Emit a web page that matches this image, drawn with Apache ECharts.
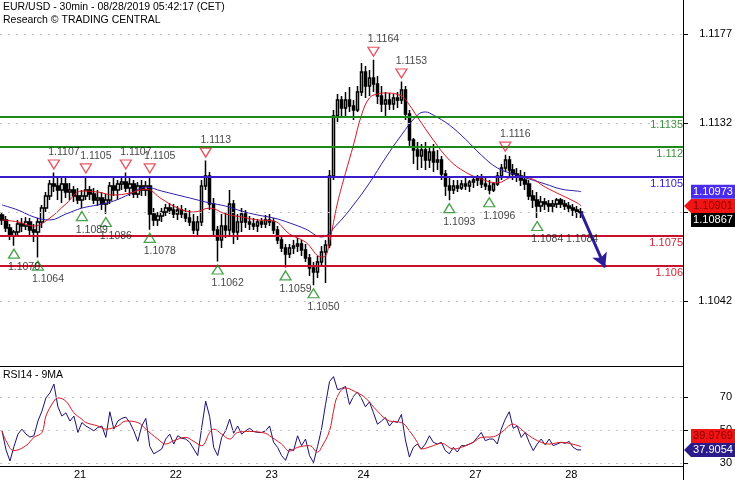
<!DOCTYPE html>
<html><head><meta charset="utf-8">
<script src="https://cdn.jsdelivr.net/npm/echarts@6/dist/echarts.min.js"></script>
<style>html,body{margin:0;padding:0;background:#fff}#c{width:735px;height:480px}</style>
</head><body><div id="c"></div>
<script>
// ---------- DATA ----------
const slotCount = 171;                 // hourly slots on the time axis (incl. blank projection area)
const dayIndex  = [18, 42, 66, 89, 117, 141];
const dayLabels = ['21', '22', '23', '24', '27', '28'];

const opens = [
1.10855,1.1083,1.10789,1.10749,1.10769,1.1081,1.10799,1.1082,1.10779,1.10769,
1.1082,1.1089,1.10951,1.11012,1.11002,1.10981,1.11012,1.10971,1.10981,1.10951,
1.10931,1.10951,1.10981,1.10961,1.10931,1.10941,1.10911,1.10931,1.11002,1.10981,
1.11012,1.11022,1.10991,1.11012,1.10961,1.11002,1.10981,1.11002,1.1086,1.1083,
1.1085,1.1087,1.1089,1.1088,1.1086,1.1088,1.1086,1.1084,1.1082,1.10779,
1.1082,1.11002,1.11052,1.10911,1.10779,1.10729,1.10799,1.10779,1.10911,1.10769,
1.1082,1.1086,1.1082,1.1081,1.10799,1.1082,1.1081,1.1083,1.1082,1.10779,
1.10729,1.10688,1.10658,1.10688,1.10698,1.10708,1.10678,1.10638,1.10587,1.10567,
1.10617,1.10668,1.10703,1.11052,1.11355,1.11436,1.11396,1.11436,1.11406,1.11386,
1.11477,1.11578,1.11507,1.11548,1.11517,1.11457,1.11416,1.11436,1.11416,1.11447,
1.11436,1.11487,1.11366,1.11234,1.11184,1.11153,1.11184,1.11133,1.11173,1.11123,
1.11133,1.11062,1.11002,1.10981,1.11002,1.10991,1.11012,1.11002,1.11022,1.11032,
1.11042,1.11012,1.11002,1.10981,1.11012,1.11052,1.11093,1.11133,1.11082,1.11062,
1.11052,1.11032,1.11012,1.10951,1.10931,1.109,1.10921,1.10911,1.109,1.10911,
1.10931,1.10911,1.109,1.1089,1.1088,1.1087];

const closes = [
1.1083,1.10789,1.10749,1.10769,1.1081,1.10799,1.1082,1.10779,1.10769,1.1082,
1.1089,1.10951,1.11012,1.11002,1.10981,1.11012,1.10971,1.10981,1.10951,1.10931,
1.10951,1.10981,1.10961,1.10931,1.10941,1.10911,1.10931,1.11002,1.10981,1.11012,
1.11022,1.10991,1.11012,1.10961,1.11002,1.10981,1.11002,1.1086,1.1083,1.1085,
1.1087,1.1089,1.1088,1.1086,1.1088,1.1086,1.1084,1.1082,1.10779,1.1082,
1.11002,1.11052,1.10911,1.10779,1.10729,1.10799,1.10779,1.10911,1.10769,1.1082,
1.1086,1.1082,1.1081,1.10799,1.1082,1.1081,1.1083,1.1082,1.10779,1.10729,
1.10688,1.10658,1.10688,1.10698,1.10708,1.10678,1.10638,1.10587,1.10567,1.10617,
1.10668,1.10703,1.11052,1.11355,1.11436,1.11396,1.11436,1.11406,1.11386,1.11477,
1.11578,1.11507,1.11548,1.11517,1.11457,1.11416,1.11436,1.11416,1.11447,1.11436,
1.11487,1.11366,1.11234,1.11184,1.11153,1.11184,1.11133,1.11173,1.11123,1.11133,
1.11062,1.11002,1.10981,1.11002,1.10991,1.11012,1.11002,1.11022,1.11032,1.11042,
1.11012,1.11002,1.10981,1.11012,1.11052,1.11093,1.11133,1.11082,1.11062,1.11052,
1.11032,1.11012,1.10951,1.10931,1.109,1.10921,1.10911,1.109,1.10911,1.10931,
1.10911,1.109,1.1089,1.1088,1.1087,1.10867];

const lows = [
1.10804,1.10769,1.10729,1.1070,1.10749,1.10769,1.10779,1.10749,1.10718,1.1064,
1.10789,1.1087,1.10931,1.10971,1.10931,1.10916,1.10941,1.10931,1.10921,1.10911,
1.1089,1.10931,1.10931,1.10911,1.109,1.1088,1.1086,1.10911,1.10951,1.10931,
1.10981,1.10971,1.10951,1.10941,1.10941,1.10951,1.10951,1.1078,1.10799,1.10799,
1.1082,1.1085,1.1086,1.1084,1.1083,1.1084,1.1082,1.10799,1.10759,1.10744,
1.10799,1.10981,1.1088,1.10749,1.1062,1.10688,1.10739,1.10749,1.10708,1.10729,
1.10769,1.10789,1.10779,1.10779,1.10769,1.10789,1.10789,1.10799,1.10759,1.10708,
1.10668,1.1059,1.10638,1.10658,1.10668,1.10648,1.10617,1.10547,1.1050,1.10536,
1.10597,1.10511,1.10688,1.11032,1.11325,1.11345,1.11355,1.11376,1.11335,1.11376,
1.11457,1.11447,1.11457,1.11477,1.11416,1.11376,1.1135,1.11386,1.11386,1.11396,
1.11416,1.11335,1.11204,1.11113,1.11082,1.11093,1.11082,1.11093,1.11072,1.11082,
1.11032,1.10951,1.1093,1.10961,1.10971,1.10981,1.10981,1.10971,1.10991,1.11002,
1.10991,1.10981,1.1096,1.10971,1.11002,1.11032,1.11072,1.11052,1.11032,1.11022,
1.11002,1.10981,1.10931,1.1089,1.1084,1.1087,1.1088,1.1087,1.1087,1.1089,
1.1089,1.1088,1.1087,1.1085,1.1084,1.1084];

const highs = [
1.1087,1.1085,1.1081,1.10779,1.1083,1.1084,1.10845,1.1084,1.1081,1.1084,
1.10906,1.10971,1.11032,1.1107,1.11052,1.11042,1.11047,1.11017,1.11002,1.10991,
1.10981,1.1105,1.11002,1.10991,1.10981,1.10971,1.10961,1.11022,1.11042,1.11032,
1.11052,1.1107,1.11042,1.11032,1.11022,1.11032,1.11027,1.1105,1.1089,1.1087,
1.1089,1.10911,1.10916,1.10911,1.109,1.10906,1.1089,1.1088,1.1086,1.1085,
1.11032,1.1113,1.11072,1.10941,1.10799,1.1086,1.1087,1.10981,1.10931,1.1086,
1.1089,1.1088,1.1085,1.1084,1.10835,1.1084,1.10855,1.1086,1.1084,1.10799,
1.10749,1.10708,1.10708,1.10729,1.10739,1.10729,1.10708,1.10658,1.10617,1.10648,
1.10698,1.10729,1.11082,1.11386,1.11467,1.11457,1.11477,1.11502,1.11436,1.11507,
1.11623,1.11608,1.11588,1.1164,1.11558,1.11507,1.11477,1.11472,1.11467,1.11477,
1.1153,1.11507,1.11386,1.11244,1.11224,1.11214,1.11224,1.11204,1.11214,1.11184,
1.11153,1.11082,1.11052,1.11032,1.11032,1.11032,1.11042,1.11032,1.11052,1.11057,
1.11062,1.11042,1.11032,1.11022,1.11072,1.11113,1.1116,1.11153,1.11113,1.11093,
1.11082,1.11072,1.11032,1.10981,1.10971,1.10951,1.10941,1.10931,1.10931,1.10941,
1.10941,1.10931,1.10921,1.10911,1.109,1.1089];

// moving averages (bar index -> value)
const maFastAt  = [0,4,8,12,16,20,24,28,32,36,40,44,48,52,56,60,64,68,72,76,80,81,82,84,86,88,90,92,94,96,100,102,104,108,112,116,120,124,128,132,136,140,144,145];
const maFastVal = [1.1083,1.1082,1.10799,1.1084,1.10911,1.10976,1.10971,1.10956,1.10966,1.10986,
  1.10936,1.1089,1.1087,1.1089,1.1086,1.10845,1.1083,1.10825,1.10759,1.10718,
  1.10643,1.10648,1.10718,1.10916,1.11067,1.11209,1.1136,1.11447,1.11467,1.11472,
  1.11457,1.11411,1.1135,1.11234,1.11133,1.11072,1.11037,1.11017,1.11047,1.11042,
  1.10996,1.10956,1.10916,1.10901];
const maSlowAt  = [0,4,8,12,16,20,24,28,32,36,40,44,48,52,56,60,64,68,72,76,80,84,88,92,96,100,104,106,108,112,116,120,124,128,132,136,140,144,145];
const maSlowVal = [1.10906,1.1088,1.10845,1.1083,1.1086,1.1089,1.10906,1.10926,1.10961,1.10996,
  1.10976,1.10956,1.10936,1.10916,1.109,1.10875,1.10855,1.1084,1.10815,1.10784,
  1.10744,1.1081,1.10906,1.11017,1.11143,1.11259,1.1136,1.11376,1.1136,1.1131,
  1.11239,1.11158,1.11093,1.11062,1.11037,1.11012,1.10986,1.10976,1.10973];

// support / resistance
const srLevels = [1.1135, 1.112, 1.1105, 1.1075, 1.106];
const srKinds  = ['green', 'green', 'blue', 'red', 'red'];

// swing highs / lows
const peakIdx   = [13, 21, 31, 37, 51, 93, 100, 126];
const peakVal   = [1.1107, 1.1105, 1.1107, 1.1105, 1.1113, 1.1164, 1.1153, 1.1116];
const troughIdx = [3, 9, 20, 26, 37, 54, 71, 78, 112, 122, 134];
const troughVal = [1.1070, 1.1064, 1.1089, 1.1086, 1.1078, 1.1062, 1.1059, 1.1050, 1.1093, 1.1096, 1.1084];
const lastLowIdx = 145, lastLowVal = 1.1084;

// projection arrow
const arrowFrom = [145, 1.10867];
const arrowTo   = [151, 1.1059];

const priceTicks = [1.1042, 1.1087, 1.1132, 1.1177];
const rsiTicks   = [30, 50, 70];

const rsi = [
49.5,38,31.2,40,47.5,50.5,47.5,45.7,46.5,55.4,
61.4,69.4,72.4,77.8,64,58.4,60.4,55.4,58.4,48.5,
54.5,52.4,51,49.5,51.5,52.4,45.5,61,50.5,55.4,
57,57.8,54.5,49.5,43.1,52.4,57,40,35.6,37,
38.5,44.5,47.5,41.5,46.5,45,44.5,42.5,38.5,34.5,
51.5,67.4,58,39.5,34.5,45.5,49.5,56.5,48,52.4,
47.5,49.5,51,49.1,48.5,48.5,49.5,52.4,42.5,39.5,
34.5,31.6,38.5,37.5,46.5,40.5,44.5,34.5,30.2,40,
50.5,65.4,79.3,82.3,74.4,75,76.3,65.4,70.4,73,
69,64,67,60.4,53.5,55.4,57.5,52.4,55.4,54.5,
59.4,44,33.6,39.5,41.5,38.5,41.5,46.5,42.5,41.5,
42.5,37.5,35.6,39.5,36.6,40.5,40.5,41.5,42.5,45.5,
48.5,43.5,44.5,44.5,41.5,50.5,56.5,61,51,52.4,
45.5,48.5,42.5,37.5,41.5,44.5,41,44.5,40.5,41.5,
42.5,41.9,43.1,39.5,38,37.9054];
const rsiMaAt  = [0,1,3,6,8,10,11,13,14,16,18,20,21,24,26,29,31,34,36,39,41,43,46,48,50,52,53,55,57,59,62,66,67,70,72,74,77,79,80,82,83,84,86,89,91,94,97,100,102,104,105,108,110,113,115,118,120,123,125,128,129,132,135,137,140,142,145];
const rsiMaVal = [49.5,43.5,37.5,40.5,45.5,48.5,58.4,67.4,69.4,67.4,
  60.4,56.5,54.5,52.4,50.5,52.4,55.4,54.5,50.5,44.5,
  41.5,43.5,45.5,43.1,40.5,48.5,50.5,47.5,44.5,48.5,
  49.1,48,46.5,41.5,37.2,39.5,40.5,36.6,39.5,49.5,
  61.4,70.4,75.4,72.4,69.4,61.4,55.4,54.5,49.5,42.5,
  38.5,40.5,42,38.5,39.5,42.5,45.5,45.9,48.5,53.5,
  52.4,46.5,42.5,41.5,42.5,41.9,39.9769];

// ---------- BUILD ----------
const FONT = '"Liberation Sans", Arial, sans-serif';
const colors = { green: '#1a8a1a', blue: '#3a1ccc', red: '#c8102e' };
const labelColors = { green: '#3f8f3f', blue: '#3b22c8', red: '#d0283a' };

const cats = Array.from({length: slotCount}, (_, i) => {
  const k = dayIndex.indexOf(i); return k >= 0 ? dayLabels[k] : '';
});
const candles = opens.map((o, i) => [o, closes[i], lows[i], highs[i]]);
function sparse(at, val) {
  const a = new Array(opens.length).fill(null);
  at.forEach((k, j) => { a[k] = val[j]; });
  return a;
}
const maFast = sparse(maFastAt, maFastVal);
const maSlow = sparse(maSlowAt, maSlowVal);
const rsiMa = sparse(rsiMaAt, rsiMaVal);

const dotted = { color: '#c4c4c4', width: 1, type: [2, 6] };

const upTri = 'path://M5,0 L10,9 L0,9 Z';
const downTri = 'path://M0,0 L10,0 L5,9 Z';

const peakData = peakIdx.map((k, j) => ({
  value: [k, peakVal[j]], symbol: downTri, symbolSize: [11, 9], symbolOffset: [0, -8],
  itemStyle: { color: 'rgba(0,0,0,0)', borderColor: '#e0283a', borderWidth: 1.3 },
  label: { show: true, position: 'top', distance: 2, offset: [10, 0], formatter: peakVal[j].toFixed(4) }
}));
const troughData = troughIdx.map((k, j) => ({
  value: [k, troughVal[j]], symbol: upTri, symbolSize: [11, 9], symbolOffset: [0, 8],
  itemStyle: { color: 'rgba(0,0,0,0)', borderColor: '#1f8a1f', borderWidth: 1.3 },
  label: { show: true, position: 'bottom', distance: 3, offset: [10, 0], formatter: troughVal[j].toFixed(4) }
}));
troughData.push({
  value: [lastLowIdx, lastLowVal], symbol: upTri, symbolSize: [11, 9], symbolOffset: [0, 8],
  itemStyle: { color: 'rgba(0,0,0,0)', borderColor: 'rgba(0,0,0,0)' },
  label: { show: true, position: 'bottom', distance: 3, offset: [1, 0], formatter: lastLowVal.toFixed(4) }
});

const chart = echarts.init(document.getElementById('c'));
const baseGraphics = [
  { type: 'text', x: 3, y: 2, style: { text: 'EUR/USD - 30min - 08/28/2019 05:42:17 (CET)', font: '10.5px ' + FONT, fill: '#000' } },
  { type: 'text', x: 3, y: 15, style: { text: 'Research \u00A9 TRADING CENTRAL', font: '10.5px ' + FONT, fill: '#000' } },
  { type: 'text', x: 3, y: 370, style: { text: 'RSI14 - 9MA', font: '10.5px ' + FONT, fill: '#000' } },
  { type: 'line', shape: { x1: 683.5, y1: 0, x2: 683.5, y2: 480 }, style: { stroke: '#000', lineWidth: 1 } },
  { type: 'line', shape: { x1: 0, y1: 366.5, x2: 683, y2: 366.5 }, style: { stroke: '#000', lineWidth: 1 } }
];

chart.setOption({
  animation: false,
  backgroundColor: '#fff',
  textStyle: { fontFamily: FONT },
  grid: [
    { left: 0, right: 52, top: 0, height: 360 },
    { left: 0, right: 52, top: 366, height: 101 }
  ],
  xAxis: [
    { type: 'category', gridIndex: 0, data: cats, boundaryGap: true, show: false },
    { type: 'category', gridIndex: 1, data: cats, boundaryGap: true,
      axisLine: { lineStyle: { color: '#000', width: 1 } },
      axisTick: { length: 5, lineStyle: { color: '#000' }, interval: (i) => dayIndex.includes(i) },
      axisLabel: { interval: (i) => dayIndex.includes(i), align: 'left', margin: 3, fontSize: 11, color: '#000', fontFamily: FONT },
      splitLine: { show: false } }
  ],
  yAxis: [
    { type: 'value', gridIndex: 0, position: 'right', min: 1.10122, max: 1.11942, scale: true,
      axisLine: { show: false },
      axisTick: { show: true, length: 5, lineStyle: { color: '#000' }, customValues: priceTicks },
      axisLabel: { customValues: priceTicks, formatter: (v) => v.toFixed(4), align: 'right', margin: 49, fontSize: 11, color: '#000', fontFamily: FONT },
      splitLine: { show: false } },
    { type: 'value', gridIndex: 1, position: 'right', min: 28.2, max: 88.7,
      axisLine: { show: false },
      axisTick: { show: true, length: 5, lineStyle: { color: '#000' }, customValues: rsiTicks },
      axisLabel: { customValues: rsiTicks, align: 'right', margin: 49, fontSize: 11, color: '#000', fontFamily: FONT },
      splitLine: { show: false } }
  ],
  graphic: baseGraphics,
  series: [
    { type: 'line', name: 'grid-price', xAxisIndex: 0, yAxisIndex: 0, data: [], z: 1, silent: true,
      markLine: { silent: true, precision: 6, symbol: 'none', label: { show: false }, lineStyle: dotted,
        data: priceTicks.map(v => ({ yAxis: v })) } },
    { type: 'line', name: 'grid-rsi', xAxisIndex: 1, yAxisIndex: 1, data: [], z: 1, silent: true,
      markLine: { silent: true, precision: 6, symbol: 'none', label: { show: false }, lineStyle: dotted,
        data: rsiTicks.map(v => ({ yAxis: v })) } },
    { type: 'candlestick', name: 'EUR/USD', xAxisIndex: 0, yAxisIndex: 0, data: candles, z: 3,
      barWidth: 3,
      itemStyle: { color: '#ffffff', color0: '#000000', borderColor: '#000000', borderColor0: '#000000', borderWidth: 1.5 } },
    { type: 'line', name: 'MA slow', xAxisIndex: 0, yAxisIndex: 0, data: maSlow, connectNulls: true, smooth: 0.4,
      showSymbol: false, z: 4, lineStyle: { color: '#3020a8', width: 1 } },
    { type: 'line', name: 'MA fast', xAxisIndex: 0, yAxisIndex: 0, data: maFast, connectNulls: true, smooth: 0.4,
      showSymbol: false, z: 4, lineStyle: { color: '#d41a24', width: 1 } },
    { type: 'line', name: 'levels', xAxisIndex: 0, yAxisIndex: 0, data: [], z: 5, silent: true,
      markLine: { silent: true, precision: 6, symbol: 'none',
        data: srLevels.map((v, j) => ({ yAxis: v,
          lineStyle: { color: colors[srKinds[j]], width: 2.2, type: 'solid' },
          label: { show: true, position: 'insideEndBottom', distance: [0, 2], formatter: String(v), color: labelColors[srKinds[j]], fontSize: 11, fontFamily: FONT } })) } },
    { type: 'line', name: 'projection', xAxisIndex: 0, yAxisIndex: 0, data: [], z: 6, silent: true,
      markLine: { silent: true, precision: 6, symbol: ['none', 'arrow'], symbolSize: [12, 14], label: { show: false },
        lineStyle: { color: '#2c1c9c', width: 3, type: 'solid' },
        data: [[{ coord: arrowFrom }, { coord: arrowTo }]] } },
    { type: 'scatter', name: 'swing highs', xAxisIndex: 0, yAxisIndex: 0, data: peakData, z: 7,
      label: { color: '#111', fontSize: 10.5, fontFamily: FONT } },
    { type: 'scatter', name: 'swing lows', xAxisIndex: 0, yAxisIndex: 0, data: troughData, z: 7,
      label: { color: '#111', fontSize: 10.5, fontFamily: FONT } },
    { type: 'line', name: 'RSI14', xAxisIndex: 1, yAxisIndex: 1, data: rsi, showSymbol: false, z: 3,
      lineStyle: { color: '#1e0f70', width: 1 } },
    { type: 'line', name: 'RSI 9MA', xAxisIndex: 1, yAxisIndex: 1, data: rsiMa, connectNulls: true, smooth: 0.4,
      showSymbol: false, z: 4, lineStyle: { color: '#d41a24', width: 1 } }
  ]
});

// value tags on the right axis, positioned via the axis scale
function tagEls(y, fill, textFill, text, pointer) {
  const els = [];
  if (pointer) els.push({ type: 'polygon', z: 100, shape: { points: [[684, y], [691, y - 7], [691, y + 7]] }, style: { fill } });
  els.push({ type: 'rect', z: 100, shape: { x: 691, y: y - 7, width: 44, height: 14 }, style: { fill } });
  els.push({ type: 'text', z: 101, x: 713, y: y, style: { text, fill: textFill, font: '11px ' + FONT, align: 'center', verticalAlign: 'middle' } });
  return els;
}
function place(v, axis, pointerY) {
  const y = chart.convertToPixel({ yAxisIndex: axis }, v);
  if (pointerY == null) return y;
  return y < pointerY ? Math.min(y, pointerY - 14) : Math.max(y, pointerY + 14);
}
const fastLast = maFastVal[maFastVal.length - 1];
const slowLast = maSlowVal[maSlowVal.length - 1];
const closeLast = closes[closes.length - 1];
const rsiLast = rsi[rsi.length - 1];
const rsiMaLast = rsiMaVal[rsiMaVal.length - 1];
const pY = place(fastLast, 0);
const rY = place(rsiLast, 1);
const tags = [].concat(
  tagEls(place(slowLast, 0, pY), '#4a2cf0', '#fff', slowLast.toFixed(5), false),
  tagEls(pY, '#f01414', '#8a0000', fastLast.toFixed(5), true),
  tagEls(place(closeLast, 0, pY), '#000', '#fff', closeLast.toFixed(5), false),
  tagEls(place(rsiMaLast, 1, rY), '#f01414', '#8a0000', rsiMaLast.toFixed(4), false),
  tagEls(rY, '#2a1a8a', '#fff', rsiLast.toFixed(4), true)
);
chart.setOption({ graphic: baseGraphics.concat(tags) });
</script>
</body></html>
